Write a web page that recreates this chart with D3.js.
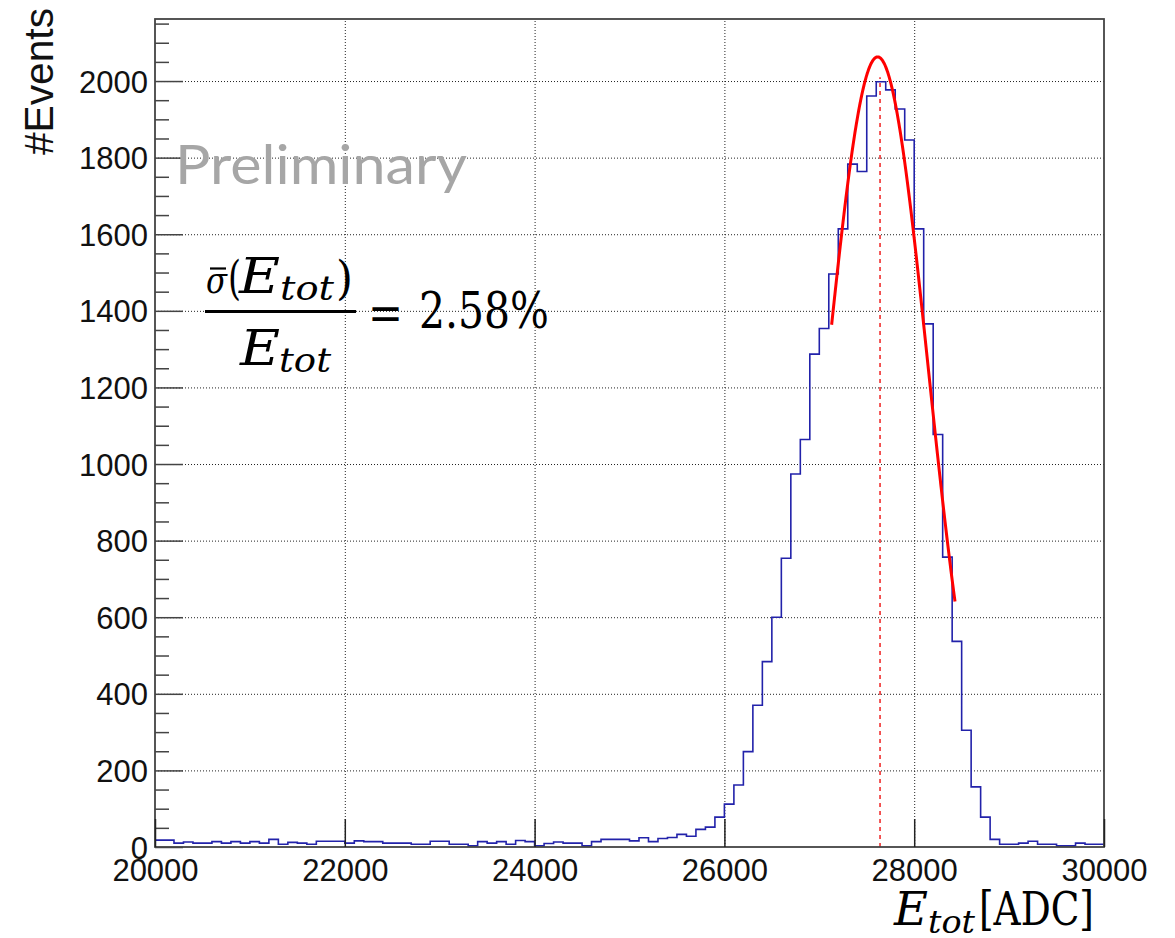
<!DOCTYPE html>
<html><head><meta charset="utf-8">
<script src="https://cdn.jsdelivr.net/npm/d3@7"></script>
<style>body{margin:0;background:#fff}</style>
</head><body>
<svg id="c" width="1175" height="938"></svg>
<script>
// ---------------- data ----------------
const xRange = [20000, 30000];
const binWidth = 100;
const counts = [
  18,18,10,13,10,10,14,10,14,10,14,10,20,7,12,10,7,15,15,15,
  10,16,14,14,10,10,10,7,7,15,15,7,7,3,14,10,14,7,17,14,
  3,9,13,10,10,3,14,20,20,20,16,24,14,22,25,33,28,46,52,78,
  112,162,249,370,484,600,754,974,1064,
  1287,1354,1496,1614,1783,1764,1961,1998,1977,1927,1846,1614,1366,
  1077,757,537,305,157,
  78,20,7,7,10,15,7,7,3,3,10,7,7
];
const xTicks = [20000, 22000, 24000, 26000, 28000, 30000];
const yTicks = [0, 200, 400, 600, 800, 1000, 1200, 1400, 1600, 1800, 2000];
const yMinorStep = 50;
const yMax = 2162;
const fitAmp = 2063, fitMean = 27615, fitSigma = 533;
const fitRange = [27130, 28430];
const meanLine = 27640;
const meanLineTop = 2010;
const resolutionText = "2.58%";
const watermark = "Preliminary";
const yTitle = "#Events";

// ---------------- layout ----------------
const m = {left: 155, right: 1104, top: 19, bottom: 847};
const svg = d3.select("#c");
const x = d3.scaleLinear().domain(xRange).range([m.left, m.right]);
const y = d3.scaleLinear().domain([0, yMax]).range([m.bottom, m.top]);
const sans = "'Liberation Sans', Arial, sans-serif";
const serif = "'DejaVu Serif', 'Liberation Serif', serif";

// grid
const gx = svg.append("g").attr("transform", `translate(0,${m.bottom})`)
  .call(d3.axisBottom(x).tickValues(xTicks.slice(1, -1)).tickSize(-(m.bottom - m.top)).tickFormat(""));
gx.select(".domain").remove();
gx.selectAll("line").attr("stroke", "#222").attr("stroke-width", 1).attr("stroke-dasharray", "1,2");
const gy = svg.append("g").attr("transform", `translate(${m.left},0)`)
  .call(d3.axisLeft(y).tickValues(yTicks.slice(1)).tickSize(-(m.right - m.left)).tickFormat(""));
gy.select(".domain").remove();
gy.selectAll("line").attr("stroke", "#222").attr("stroke-width", 1).attr("stroke-dasharray", "1,2");

// clip
svg.append("clipPath").attr("id", "plotclip").append("rect")
  .attr("x", m.left).attr("y", m.top).attr("width", m.right - m.left).attr("height", m.bottom - m.top);

// histogram
const pts = counts.map((c, i) => [xRange[0] + i * binWidth, c]);
pts.push([xRange[1], counts[counts.length - 1]]);
svg.append("path").attr("clip-path", "url(#plotclip)")
  .attr("d", d3.line().x(d => x(d[0])).y(d => y(d[1])).curve(d3.curveStepAfter)(pts))
  .attr("fill", "none").attr("stroke", "#2222aa").attr("stroke-width", 1.6);

// mean line
svg.append("line").attr("x1", x(meanLine)).attr("x2", x(meanLine))
  .attr("y1", y(0)).attr("y2", y(meanLineTop))
  .attr("stroke", "#ee1111").attr("stroke-width", 1.4).attr("stroke-dasharray", "4,4");

// fit
const fitPts = d3.range(fitRange[0], fitRange[1] + 0.1, 5)
  .map(v => [v, fitAmp * Math.exp(-0.5 * Math.pow((v - fitMean) / fitSigma, 2))]);
svg.append("path")
  .attr("d", d3.line().x(d => x(d[0])).y(d => y(d[1]))(fitPts))
  .attr("fill", "none").attr("stroke", "#ff0000").attr("stroke-width", 3);

// frame
svg.append("rect").attr("x", m.left).attr("y", m.top)
  .attr("width", m.right - m.left).attr("height", m.bottom - m.top)
  .attr("fill", "none").attr("stroke", "#444").attr("stroke-width", 1.8);

// y axis (major + minor)
const yMinor = d3.range(0, yMax, yMinorStep).filter(v => v % 200 !== 0);
const ya2 = svg.append("g").attr("transform", `translate(${m.left},0)`)
  .call(d3.axisLeft(y).tickValues(yMinor).tickSize(-14).tickFormat(""));
ya2.select(".domain").remove();
ya2.selectAll("line").attr("stroke", "#444").attr("stroke-width", 1.5);
const ya = svg.append("g").attr("transform", `translate(${m.left},0)`)
  .call(d3.axisLeft(y).tickValues(yTicks).tickSize(-28).tickPadding(7).tickFormat(d3.format("d")));
ya.select(".domain").remove();
ya.selectAll("line").attr("stroke", "#444").attr("stroke-width", 1.5);
ya.selectAll("text").attr("font-family", sans).attr("font-size", 31).attr("fill", "#111")
  .attr("dy", null).attr("y", 11);

// x axis
const xa = svg.append("g").attr("transform", `translate(0,${m.bottom})`)
  .call(d3.axisBottom(x).tickValues(xTicks).tickSize(-28).tickPadding(12).tickFormat(d3.format("d")));
xa.select(".domain").remove();
xa.selectAll("line").attr("stroke", "#222").attr("stroke-width", 1.5);
xa.selectAll("text").attr("font-family", sans).attr("font-size", 31).attr("fill", "#111");

// y title
svg.append("text").attr("transform", "translate(53,155) rotate(-90)")
  .attr("font-family", sans).attr("font-size", 41).attr("fill", "#111")
  .attr("textLength", 147).attr("lengthAdjust", "spacingAndGlyphs")
  .text(yTitle);

// helper for math pieces
function piece(g, txt, px, py, size, italic, len) {
  const t = g.append("text").attr("x", px).attr("y", py)
    .attr("font-family", serif).attr("font-size", size)
    .attr("font-style", italic ? "italic" : "normal").text(txt);
  if (len) t.attr("textLength", len).attr("lengthAdjust", "spacingAndGlyphs");
  return t;
}

// x title: E_tot [ADC]
const xt = svg.append("g").attr("fill", "#000");
piece(xt, "E", 894, 925, 46, true, 34);
piece(xt, "tot", 928, 933, 32, true, 47);
piece(xt, "[ADC]", 979, 925, 46, false, 115);

// watermark
svg.append("text").attr("x", 175).attr("y", 184)
  .attr("font-family", "Lato, 'Open Sans', sans-serif").attr("font-size", 55).attr("fill", "#a6a6a6")
  .attr("textLength", 292).attr("lengthAdjust", "spacingAndGlyphs").text(watermark);

// formula
const f = svg.append("g").attr("fill", "#000");
piece(f, "σ", 206, 293, 38, true, 21);
f.append("line").attr("x1", 210).attr("x2", 226).attr("y1", 268.5).attr("y2", 268.5)
  .attr("stroke", "#000").attr("stroke-width", 2.2);
piece(f, "(", 228, 294, 46, false, 13);
piece(f, "E", 239, 293, 48, true, 41);
piece(f, "tot", 280, 300, 34, true, 54);
piece(f, ")", 336, 294, 46, false, 17);
f.append("line").attr("x1", 205).attr("x2", 356).attr("y1", 311.5).attr("y2", 311.5)
  .attr("stroke", "#000").attr("stroke-width", 3);
piece(f, "E", 240, 365, 48, true, 40);
piece(f, "tot", 279, 372, 34, true, 52);
piece(f, "=", 368, 330, 48, false, 35);
piece(f, resolutionText, 419, 328, 50, false, 130);
</script>
</body></html>
